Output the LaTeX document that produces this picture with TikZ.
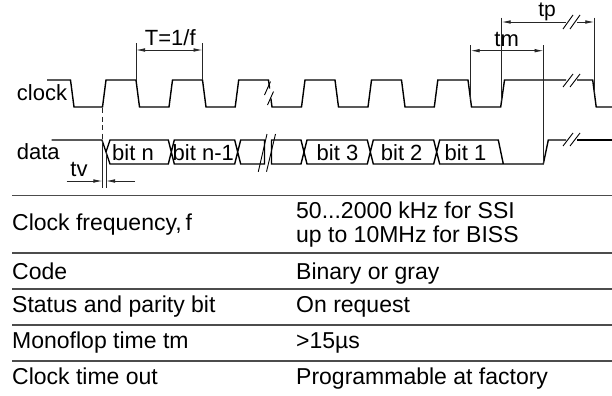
\documentclass[tikz,border=0pt]{standalone}
\usepackage{fontspec}
\setmainfont{Liberation Sans}
\usetikzlibrary{arrows.meta}
\begin{document}
\begin{tikzpicture}[x=1bp,y=-1bp,
  sig/.style={line width=1.4bp,line join=miter,black},
  dim/.style={line width=0.8bp,color=black!85},
  dimarr/.style={dim,-{Latex[length=9bp,width=3.6bp]}},
  rule/.style={line width=1.1bp,color=black!70},
  lbl/.style={inner sep=0pt,anchor=base,font=\fontsize{22bp}{24bp}\selectfont},
  lbw/.style={lbl,anchor=base west},
  tab/.style={inner sep=0pt,anchor=base west,font=\fontsize{23bp}{26bp}\selectfont},
  brk/.style={line width=0.9bp,black}]
\useasboundingbox (0,0) rectangle (612,395);
% ---------- clock ----------
\draw[sig] (47,80) -- (70.5,80) -- (74,107) -- (102.5,107) -- (106,80) -- (136,80)
  -- (139.5,107) -- (169,107) -- (172.5,80) -- (202.5,80) -- (206,107) -- (235.2,107)
  -- (238.7,80) -- (268.5,80) -- (269.6,88.5);
\draw[sig] (270.9,98.5) -- (272,107) -- (301.5,107) -- (305,80) -- (335,80) -- (338.5,107)
  -- (368,107) -- (371.5,80) -- (401.5,80) -- (405,107) -- (434.3,107) -- (437.8,80)
  -- (468,80) -- (471.5,107) -- (500.7,107) -- (504.5,80) -- (566,80);
\draw[sig] (577,80) -- (592.7,80) -- (596.2,107) -- (612,107);
\draw[brk] (264.5,95) -- (270.5,81.5);
\draw[brk] (267.5,105) -- (273.5,91.5);
\draw[brk] (563,87) -- (573,74);
\draw[brk] (570,87) -- (580,74);
% ---------- data ----------
\draw[sig] (51.7,140) -- (102,140) -- (110,164) -- (168.3,164) -- (174.3,140) -- (234.7,140)
  -- (240.7,164) -- (264.5,164) -- (264.5,140) -- (240.7,140) -- (234.7,164) -- (174.3,164)
  -- (168.3,140) -- (110,140) -- (106,152);
\draw[sig] (503.3,164) -- (498.3,140) -- (439.7,140) -- (433.7,164) -- (373.3,164) -- (367.3,140)
  -- (307,140) -- (301,164) -- (271.5,164) -- (271.5,140) -- (301,140) -- (307,164)
  -- (367.3,164) -- (373.3,140) -- (433.7,140) -- (439.7,164) -- (543.3,164) -- (548.3,140) -- (566,140);
\draw[sig] (577,140) -- (612,140);
\draw[brk] (258.3,171.7) -- (267,134);
\draw[brk] (266.5,171.7) -- (275.5,134);
\draw[brk] (563,146) -- (573,133);
\draw[brk] (570,146) -- (580,133);
% ---------- tv ----------
\draw[dim,dashed,dash pattern=on 5bp off 3.5bp] (102.4,108) -- (102.4,140);
\draw[dim] (102.4,140) -- (102.4,188);
\draw[dim] (106,152) -- (106,188);
\coordinate (tvl) at (66.7,181);
\coordinate (tvr) at (135,181);
\coordinate (tva) at (102.4,181);
\coordinate (tvb) at (106,181);
\draw[dimarr] (tvl) -- (tva);
\draw[dimarr] (tvr) -- (tvb);
\node[lbl] (tv) at (79,176.5) {tv};
% ---------- T=1/f ----------
\draw[dim] (136,43.3) -- (136,80);
\draw[dim] (202.5,43.3) -- (202.5,80);
\coordinate (Ta) at (136,50);
\coordinate (Tb) at (202.5,50);
\draw[dim,{Latex[length=9bp,width=3.6bp]}-{Latex[length=9bp,width=3.6bp]}] (Ta) -- (Tb);
\node[lbl] (T) at (170.3,45) {T=1/f};
% ---------- tm ----------
\draw[dim] (470.7,45) -- (470.7,100);
\draw[dim] (543.5,45) -- (543.5,164);
\coordinate (tma) at (470.7,50.7);
\coordinate (tmb) at (543.5,50.7);
\draw[dim,{Latex[length=9bp,width=3.6bp]}-{Latex[length=9bp,width=3.6bp]}] (tma) -- (tmb);
\node[lbl] (tm) at (506.7,46) {tm};
% ---------- tp ----------
\draw[dim] (501.7,17.5) -- (501.7,100.5);
\draw[dim] (594.3,17.5) -- (594.3,93);
\coordinate (tpa) at (501.7,22);
\coordinate (tpg1) at (566,22);
\coordinate (tpg2) at (577,22);
\coordinate (tpb) at (594.3,22);
\draw[dim,{Latex[length=9bp,width=3.6bp]}-] (tpa) -- (tpg1);
\draw[dimarr] (tpg2) -- (tpb);
\draw[brk] (563,29) -- (573,15);
\draw[brk] (570,29) -- (580,15);
\node[lbl,font=\fontsize{21bp}{24bp}\selectfont] (tp) at (547,16) {tp};
% ---------- signal labels ----------
\node[lbw] (clk) at (16.7,100.7) {clock};
\node[lbw] (dat) at (16.7,159.3) {data};
\node[lbl] (b1) at (133,160) {bit n};
\node[lbl] (b2) at (203.3,160) {bit n-1};
\node[lbl] (b3) at (337.5,160) {bit 3};
\node[lbl] (b4) at (401.7,160) {bit 2};
\node[lbl] (b5) at (465.5,160) {bit 1};
% ---------- table ----------
\draw[rule] (12,195.5) -- (612,195.5);
\draw[rule] (12,253) -- (612,253);
\draw[rule] (12,289) -- (612,289);
\draw[rule] (12,325) -- (612,325);
\draw[rule] (12,361) -- (612,361);
\node[tab] (r1) at (12,230) {Clock frequency,\,f};
\node[tab] (r2) at (12,279.5) {Code};
\node[tab] (r3) at (12,312.3) {Status and parity bit};
\node[tab] (r4) at (12,348.5) {Monoflop time tm};
\node[tab] (r5) at (12,384.5) {Clock time out};
\node[tab] (v1a) at (296,218.3) {50...2000 kHz for SSI};
\node[tab] (v1b) at (296,242.3) {up to 10MHz for BISS};
\node[tab] (v2) at (296,279.5) {Binary or gray};
\node[tab] (v3) at (296,312.3) {On request};
\node[tab] (v4) at (296,348.5) {>15µs};
\node[tab] (v5) at (296,384.5) {Programmable at factory};
\end{tikzpicture}
\end{document}
